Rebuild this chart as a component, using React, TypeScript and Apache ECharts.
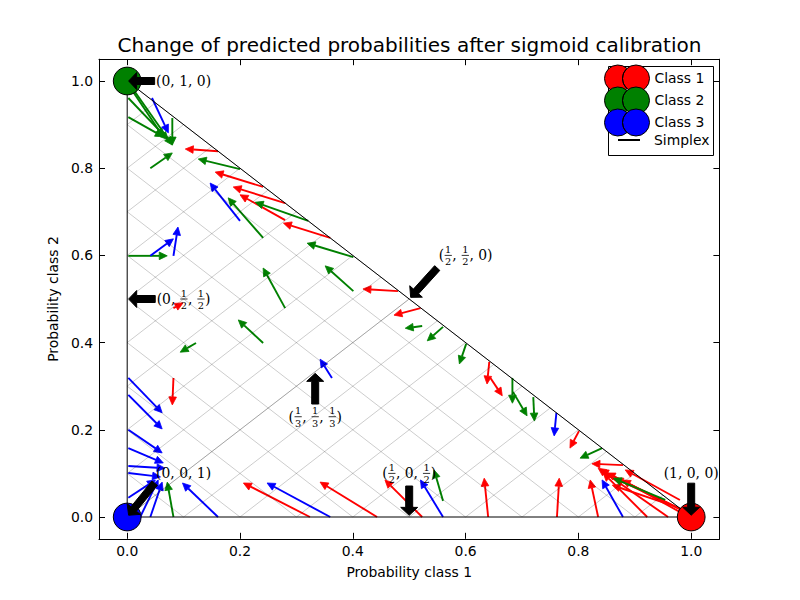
import React, { useEffect, useRef } from "react";
import * as echarts from "echarts";

// ---------- data ----------
const TITLE = "Change of predicted probabilities after sigmoid calibration";
const X_NAME = "Probability class 1";
const Y_NAME = "Probability class 2";
const AXIS_MIN = -0.05;
const AXIS_MAX = 1.05;

const classNames = ["Class 1", "Class 2", "Class 3"];
const classColors = ["#ff0000", "#008000", "#0000ff"];
const classCorners = [
  [1, 0],
  [0, 1],
  [0, 0],
];

const simplexPoints = [
  [0, 0],
  [1, 0],
  [0, 1],
  [0, 0],
];

const gridLevels = [0.0, 0.1, 0.2, 0.3, 0.4, 0.5, 0.6, 0.7, 0.8, 0.9, 1.0];

// arrows: [p1 before, p2 before, p1 after, p2 after]
const class1Arrows = [
  [0.161, 0.839, 0.103, 0.844],
  [0.241, 0.757, 0.156, 0.791],
  [0.28, 0.72, 0.188, 0.757],
  [0.36, 0.64, 0.277, 0.674],
  [0.28, 0.681, 0.2, 0.739],
  [0.48, 0.518, 0.418, 0.523],
  [0.52, 0.479, 0.473, 0.463],
  [0.642, 0.356, 0.638, 0.305],
  [0.644, 0.319, 0.665, 0.278],
  [0.082, 0.319, 0.08, 0.257],
  [0.082, 0.479, 0.099, 0.491],
  [0.324, 0.0, 0.206, 0.078],
  [0.443, 0.0, 0.342, 0.08],
  [0.523, 0.0, 0.457, 0.085],
  [0.64, 0.0, 0.633, 0.089],
  [0.762, 0.0, 0.766, 0.089],
  [0.801, 0.197, 0.785, 0.158],
  [0.879, 0.119, 0.824, 0.122],
  [0.835, 0.0, 0.821, 0.085],
  [0.922, 0.0, 0.844, 0.101],
  [0.959, 0.0, 0.835, 0.112],
  [0.995, 0.009, 0.839, 0.108],
  [0.995, 0.009, 0.851, 0.101],
  [0.995, 0.009, 0.865, 0.089],
  [0.989, 0.005, 0.878, 0.085],
  [0.98, 0.039, 0.883, 0.108],
  [0.963, 0.028, 0.86, 0.073],
];

const class2Arrows = [
  [0.005, 0.986, 0.064, 0.872],
  [0.009, 0.984, 0.08, 0.853],
  [0.002, 0.961, 0.073, 0.865],
  [0.002, 0.917, 0.064, 0.872],
  [0.08, 0.915, 0.08, 0.853],
  [0.041, 0.8, 0.08, 0.835],
  [0.2, 0.798, 0.126, 0.821],
  [0.321, 0.679, 0.227, 0.722],
  [0.241, 0.64, 0.179, 0.732],
  [0.401, 0.596, 0.319, 0.628],
  [0.401, 0.518, 0.351, 0.576],
  [0.523, 0.438, 0.493, 0.433],
  [0.56, 0.436, 0.532, 0.404],
  [0.601, 0.397, 0.589, 0.351],
  [0.683, 0.319, 0.683, 0.261],
  [0.684, 0.287, 0.709, 0.232],
  [0.72, 0.275, 0.722, 0.22],
  [0.842, 0.158, 0.803, 0.135],
  [0.954, 0.039, 0.862, 0.089],
  [0.56, 0.037, 0.544, 0.108],
  [0.082, 0.0, 0.071, 0.08],
  [0.002, 0.599, 0.071, 0.599],
  [0.28, 0.479, 0.241, 0.571],
  [0.241, 0.399, 0.197, 0.452],
  [0.122, 0.399, 0.094, 0.378],
];

const class3Arrows = [
  [0.044, 0.961, 0.073, 0.881],
  [0.2, 0.679, 0.147, 0.766],
  [0.041, 0.599, 0.082, 0.638],
  [0.082, 0.599, 0.09, 0.665],
  [0.363, 0.319, 0.342, 0.362],
  [0.761, 0.239, 0.757, 0.186],
  [0.879, 0.0, 0.842, 0.085],
  [0.56, 0.0, 0.52, 0.085],
  [0.36, 0.0, 0.248, 0.078],
  [0.161, 0.0, 0.098, 0.078],
  [0.041, 0.0, 0.062, 0.08],
  [0.023, 0.0, 0.055, 0.085],
  [0.002, 0.044, 0.05, 0.085],
  [0.002, 0.101, 0.059, 0.092],
  [0.002, 0.117, 0.067, 0.112],
  [0.002, 0.158, 0.064, 0.124],
  [0.002, 0.2, 0.062, 0.147],
  [0.002, 0.28, 0.062, 0.202],
  [0.002, 0.319, 0.062, 0.239],
];

// annotations
const annotLabels = [
  "(1/3, 1/3, 1/3)",
  "(1/2, 0, 1/2)",
  "(0, 1/2, 1/2)",
  "(1/2, 1/2, 0)",
  "(0, 0, 1)",
  "(1, 0, 0)",
  "(0, 1, 0)",
];
const annotTextPos = [
  [1 / 3, 0.23],
  [0.5, 0.1],
  [0.1, 0.5],
  [0.6, 0.6],
  [0.1, 0.1],
  [1.0, 0.1],
  [0.1, 1.0],
];
const annotTargets = [
  [1 / 3, 1 / 3],
  [0.5, 0.0],
  [0.0, 0.5],
  [0.5, 0.5],
  [0.0, 0.0],
  [1.0, 0.0],
  [0.0, 1.0],
];

// ---------- helpers ----------
const SANS = "DejaVu Sans";
const SERIF = "DejaVu Serif";
const FS = 13.9;
const MATH_FS = 13.9;
const FRAC_FS = 9.8;

let measureCtx: CanvasRenderingContext2D | null = null;
function measure(s: string, size: number, family: string) {
  if (!measureCtx) measureCtx = document.createElement("canvas").getContext("2d");
  measureCtx!.font = `${size}px "${family}"`;
  return measureCtx!.measureText(s).width;
}

function arrowRenderer(color: string) {
  return (params: any, api: any) => {
    const p0 = api.coord([api.value(0), api.value(1)]);
    const p1 = api.coord([api.value(2), api.value(3)]);
    const dx = p1[0] - p0[0];
    const dy = p1[1] - p0[1];
    const len = Math.hypot(dx, dy) || 1;
    const ux = dx / len;
    const uy = dy / len;
    const hl = Math.min(8, len * 0.8);
    const hw = 3.8;
    const bx = p1[0] - ux * hl;
    const by = p1[1] - uy * hl;
    const nx = -uy;
    const ny = ux;
    return {
      type: "group",
      children: [
        {
          type: "line",
          shape: { x1: p0[0], y1: p0[1], x2: bx, y2: by },
          style: { stroke: color, lineWidth: 1.9 },
        },
        {
          type: "polygon",
          shape: {
            points: [
              [p1[0], p1[1]],
              [bx + nx * hw, by + ny * hw],
              [bx - nx * hw, by - ny * hw],
            ],
          },
          style: { fill: color, stroke: color, lineWidth: 0.8 },
        },
      ],
    };
  };
}

function gridRenderer(params: any, api: any) {
  const p0 = api.coord([api.value(0), api.value(1)]);
  const p1 = api.coord([api.value(2), api.value(3)]);
  return {
    type: "line",
    shape: { x1: p0[0], y1: p0[1], x2: p1[0], y2: p1[1] },
    style: { stroke: "rgba(0,0,0,0.2)", lineWidth: 1 },
  };
}

function annotRenderer(params: any, api: any) {
  const idx = api.value(4);
  const label = annotLabels[idx];
  const c = api.coord([api.value(0), api.value(1)]);
  const t = api.coord([api.value(2), api.value(3)]);
  const pieces = label.split(/(\d+\/\d+)/).filter((s) => s.length > 0);
  let hasFrac = false;
  const toks = pieces.map((s) => {
    const m = s.match(/^(\d+)\/(\d+)$/);
    if (m) {
      hasFrac = true;
      const w = Math.max(measure(m[1], FRAC_FS, SERIF), measure(m[2], FRAC_FS, SERIF)) + 2;
      return { frac: true, n: m[1], d: m[2], w };
    }
    return { frac: false, s, w: measure(s, MATH_FS, SERIF) };
  });
  const W = toks.reduce((a, b) => a + b.w, 0);
  const H2 = hasFrac ? 11 : 8;
  const children: any[] = [];
  let x = c[0] - W / 2;
  const cy = c[1];
  for (const tk of toks as any[]) {
    if (tk.frac) {
      children.push({
        type: "line",
        shape: { x1: x + 0.5, y1: cy, x2: x + tk.w - 0.5, y2: cy },
        style: { stroke: "#000", lineWidth: 0.8 },
      });
      children.push({
        type: "text",
        x: x + tk.w / 2,
        y: cy - 1,
        style: { text: tk.n, fontSize: FRAC_FS, fontFamily: SERIF, fill: "#000", align: "center", verticalAlign: "bottom" },
      });
      children.push({
        type: "text",
        x: x + tk.w / 2,
        y: cy + 1.5,
        style: { text: tk.d, fontSize: FRAC_FS, fontFamily: SERIF, fill: "#000", align: "center", verticalAlign: "top" },
      });
    } else {
      children.push({
        type: "text",
        x,
        y: cy,
        style: { text: tk.s, fontSize: MATH_FS, fontFamily: SERIF, fill: "#000", align: "left", verticalAlign: "middle" },
      });
    }
    x += tk.w;
  }
  // arrow from text bbox to target (matplotlib-like)
  const l = c[0] - W / 2;
  const r = c[0] + W / 2;
  const top = cy - H2;
  const bot = cy + H2;
  const pick = (vals: number[], v: number) =>
    vals.reduce((best, cur) => (Math.abs(cur - v) < Math.abs(best - v) ? cur : best), vals[0]);
  const x0 = pick([l, c[0], r], t[0]);
  const y0 = pick([bot, cy, top], t[1]);
  const ddx = t[0] - x0;
  const ddy = t[1] - y0;
  const base = [x0 + 0.05 * ddx, y0 + 0.05 * ddy];
  const tip = [t[0] - 0.05 * ddx, t[1] - 0.05 * ddy];
  const len = Math.hypot(tip[0] - base[0], tip[1] - base[1]) || 1;
  const ux = (tip[0] - base[0]) / len;
  const uy = (tip[1] - base[1]) / len;
  const nx = -uy;
  const ny = ux;
  const k1 = 3.5;
  const k2 = 8.5;
  const hl = 8;
  const hb = [tip[0] - ux * hl, tip[1] - uy * hl];
  children.push({
    type: "polygon",
    shape: {
      points: [
        [base[0] + nx * k1, base[1] + ny * k1],
        [hb[0] + nx * k1, hb[1] + ny * k1],
        [hb[0] + nx * k2, hb[1] + ny * k2],
        [tip[0], tip[1]],
        [hb[0] - nx * k2, hb[1] - ny * k2],
        [hb[0] - nx * k1, hb[1] - ny * k1],
        [base[0] - nx * k1, base[1] - ny * k1],
      ],
    },
    style: { fill: "#000", stroke: "#000", lineWidth: 1 },
  });
  return { type: "group", children };
}

const TWO_CIRCLES =
  "path://M22.5,3.44 A13.5,13.5 0 1 0 22.5,23.56 A13.5,13.5 0 0 1 22.5,3.44 Z " +
  "M45,13.5 A13.5,13.5 0 1 1 18,13.5 A13.5,13.5 0 1 1 45,13.5 Z";

const tickFormatter = (v: number) =>
  Math.abs(v * 5 - Math.round(v * 5)) < 1e-6 ? v.toFixed(1) : "";

export default function App() {
  const ref = useRef<HTMLDivElement>(null);
  useEffect(() => {
    if (!ref.current) return;
    const chart = echarts.init(ref.current, undefined, { renderer: "svg" });

    const gridSegs: number[][] = [];
    for (const g of gridLevels) {
      gridSegs.push([0, g, g, 0]);
      gridSegs.push([0, g, (1 - g) / 2, g + (1 - g) / 2]);
      gridSegs.push([g, 0, g + (1 - g) / 2, (1 - g) / 2]);
    }
    const annotRows = annotLabels.map((_, i) => [
      annotTextPos[i][0],
      annotTextPos[i][1],
      annotTargets[i][0],
      annotTargets[i][1],
      i,
    ]);
    const arrowSets = [class1Arrows, class2Arrows, class3Arrows];

    const titleW = measure(TITLE, 20, SANS);
    const axisCommon = {
      type: "value",
      min: AXIS_MIN,
      max: AXIS_MAX,
      splitNumber: 5,
      splitLine: { show: false },
      axisLine: { show: true, onZero: false, lineStyle: { color: "#000", width: 1 } },
      axisTick: { show: true, inside: true, length: 6, lineStyle: { color: "#000" } },
    };

    const option: any = {
      animation: false,
      backgroundColor: "#fff",
      textStyle: { fontFamily: SANS },
      title: {
        text: TITLE,
        left: 409.5 - titleW / 2,
        top: 35,
        padding: 0,
        textStyle: { fontFamily: SANS, fontSize: 20, fontWeight: "normal", color: "#000" },
      },
      grid: {
        left: 99,
        top: 59.2,
        width: 620.4,
        height: 479.6,
        containLabel: false,
        outerBoundsMode: "none",
      },
      legend: [
        {
          data: classNames.map((n) => ({ name: n, icon: TWO_CIRCLES })),
          orient: "vertical",
          left: 604,
          top: 64.5,
          itemWidth: 45,
          itemHeight: 27,
          itemGap: -6,
          padding: 0,
          selectedMode: false,
          z: 20,
          itemStyle: { borderColor: "#000", borderWidth: 1 },
          textStyle: { fontFamily: SANS, fontSize: FS, color: "#000" },
        },
        {
          data: [
            {
              name: "Simplex",
              itemStyle: { color: "rgba(0,0,0,0)", borderWidth: 0, opacity: 0 },
            },
          ],
          orient: "vertical",
          left: 617,
          top: 133,
          itemWidth: 22,
          itemHeight: 16,
          padding: 0,
          selectedMode: false,
          z: 20,
          textStyle: { fontFamily: SANS, fontSize: FS, color: "#000", padding: [0, 0, 0, 9] },
        },
      ],
      graphic: [
        {
          type: "rect",
          z: 10,
          shape: { x: 608.5, y: 66.5, width: 105, height: 89 },
          style: { fill: "#fff", stroke: "#000", lineWidth: 1 },
        },
      ],
      xAxis: [
        {
          ...axisCommon,
          position: "bottom",
          name: X_NAME,
          nameLocation: "middle",
          nameGap: 26,
          nameTextStyle: { fontFamily: SANS, fontSize: FS, color: "#000" },
          axisLabel: { formatter: tickFormatter, fontFamily: SANS, fontSize: FS, color: "#000", margin: 5 },
        },
        {
          ...axisCommon,
          position: "top",
          axisLabel: { show: false },
        },
      ],
      yAxis: [
        {
          ...axisCommon,
          position: "left",
          name: Y_NAME,
          nameLocation: "middle",
          nameGap: 37,
          nameRotate: 90,
          nameTextStyle: { fontFamily: SANS, fontSize: FS, color: "#000" },
          axisLabel: { formatter: tickFormatter, fontFamily: SANS, fontSize: FS, color: "#000", margin: 6 },
        },
        {
          ...axisCommon,
          position: "right",
          axisLabel: { show: false },
        },
      ],
      series: [
        ...arrowSets.map((set, i) => ({
          type: "custom",
          name: classNames[i] + " arrows",
          data: set,
          renderItem: arrowRenderer(classColors[i]),
          encode: { x: [0, 2], y: [1, 3] },
          z: 2,
          silent: true,
        })),
        {
          type: "custom",
          name: "grid",
          data: gridSegs,
          renderItem: gridRenderer,
          encode: { x: [0, 2], y: [1, 3] },
          z: 3,
          silent: true,
        },
        ...classNames.map((n, i) => ({
          type: "scatter",
          name: n,
          data: [classCorners[i]],
          symbol: "circle",
          symbolSize: 27.8,
          itemStyle: { color: classColors[i], borderColor: "#000", borderWidth: 1, opacity: 1 },
          z: 4,
          silent: true,
        })),
        {
          type: "line",
          name: "Simplex",
          data: simplexPoints,
          symbol: "none",
          lineStyle: { color: "#000", width: 1 },
          itemStyle: { color: "#000" },
          z: 4,
          silent: true,
        },
        {
          type: "custom",
          name: "annotations",
          data: annotRows,
          renderItem: annotRenderer,
          encode: { x: 0, y: 1 },
          z: 5,
          silent: true,
        },
      ],
    };
    chart.setOption(option);
    return () => chart.dispose();
  }, []);
  return (
    <div
      ref={ref}
      style={{ position: "fixed", left: 0, top: 0, width: 800, height: 600, background: "#fff" }}
    />
  );
}
